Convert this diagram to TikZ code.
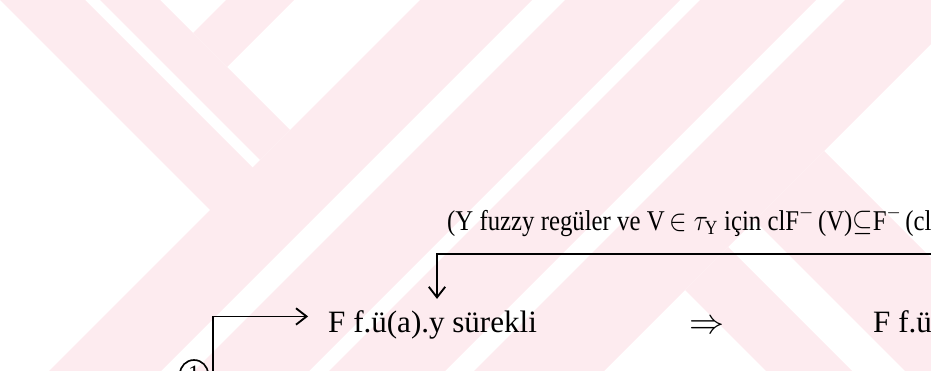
\documentclass[tikz,border=0pt]{standalone}
\usepackage{fontspec}
\setmainfont{Liberation Serif}
\usepackage{xcolor}
\usepackage{graphicx}
\definecolor{wmpink}{RGB}{253,235,239}
\usetikzlibrary{arrows.meta,positioning}
\tikzset{
  prooftext/.style={inner xsep=0pt,inner ysep=0pt,font=\fontsize{26.5}{30}\selectfont},
  notetext/.style={inner sep=0pt,font=\fontsize{23.5}{27}\selectfont},
  proofarrow/.style={-{Straight Barb[length=9pt,width=14pt]},line width=1.6pt},
  circlemark/.style={circle,draw,line width=1.4pt,minimum size=0.84cm,inner sep=0pt,font=\fontsize{20}{24}\selectfont},
  wmband/.style={fill=wmpink,draw=none}
}

\begin{document}
\begin{tikzpicture}[x=0.03cm,y=-0.03cm]
\useasboundingbox (0,0) rectangle (931,371);
\clip (0,0) rectangle (931,371);
% watermark stripes
\fill[wmband] (0,0) -- (85,0) -- (308.5,223.5) -- (210,210) -- cycle;
\fill[wmband] (100,0) -- (160,0) -- (290,130) -- (260,160) -- cycle;
\fill[wmband] (226,0) -- (294,0) -- (227,67) -- (193,33) -- cycle;
\fill[wmband] (420,0) -- (532,0) -- (161,371) -- (49,371) -- cycle;
\fill[wmband] (565,0) -- (680,0) -- (309,371) -- (194,371) -- cycle;
\fill[wmband] (700,0) -- (816,0) -- (445,371) -- (329,371) -- cycle;
\fill[wmband] (845,0) -- (975,0) -- (604,371) -- (474,371) -- cycle;
\fill[wmband] (685,290) -- (728,247) -- (852,371) -- (766,371) -- cycle;
\fill[wmband] (754.5,220.5) -- (824,151) -- (1044,371) -- (905,371) -- cycle;
% proof
\node[prooftext,inner ysep=9.4pt,anchor=base west] (surekli) at (328,332) {F f.ü(a).y sürekli};
\node[prooftext,anchor=base] (imp) at (707,333) {\scalebox{1.2}{$\Rightarrow$}};
\node[prooftext,anchor=base west] (fu) at (873,332) {F f.ü};
\node[notetext,anchor=base west] (regular) at (447,230) {\scalebox{0.9}[1.04]{(Y fuzzy regüler ve V$\,\in\tau_{\mathrm{Y}}$ için clF$^{-}$\,(V)$\subseteq$F$^{-}$\,(cl}};
\node[circlemark] (one) at (194,374) {1};
\coordinate (railend) at (960,254);
\coordinate (stemfoot) at (213,390);
\draw[proofarrow] (railend) -| ([xshift=3.8pt]surekli.north);
\draw[proofarrow,shorten >=17pt] (stemfoot) |- ([yshift=6.8pt]surekli.west);
\end{tikzpicture}
\end{document}
